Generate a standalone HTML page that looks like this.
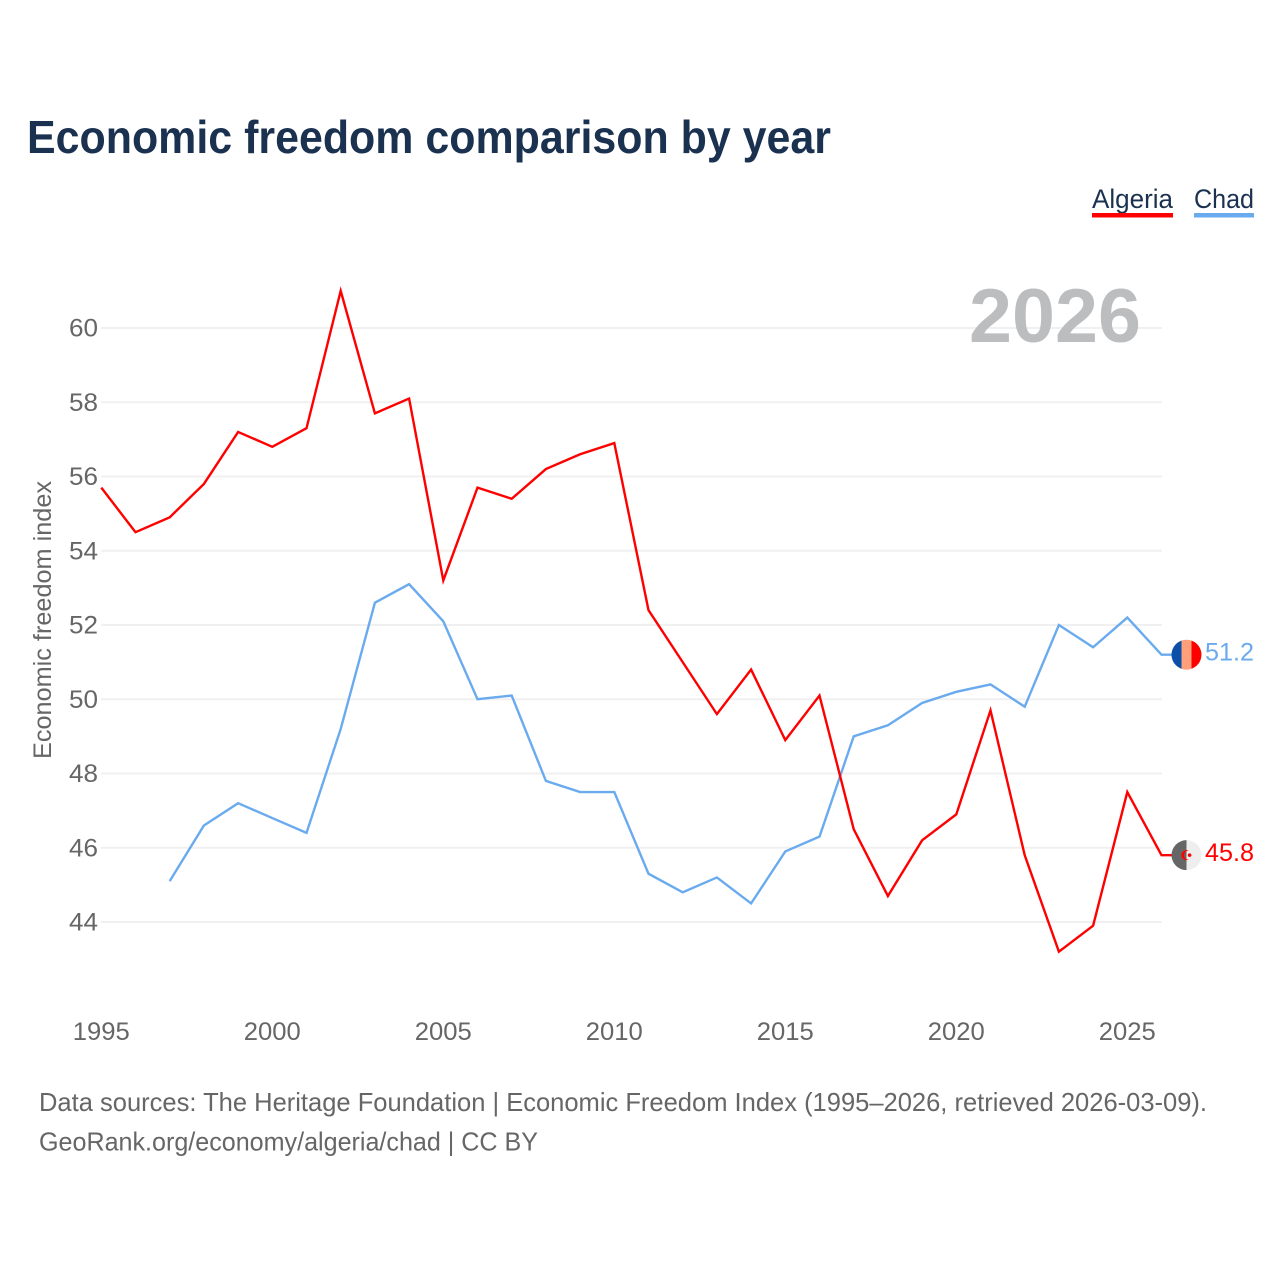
<!DOCTYPE html>
<html lang="en">
<head>
<meta charset="utf-8">
<title>Economic freedom comparison by year</title>
<style>
html,body{margin:0;padding:0;background:#fff}
svg{display:block}
text{font-family:"Liberation Sans",sans-serif}
</style>
</head>
<body>
<svg id="chart" xmlns="http://www.w3.org/2000/svg" width="1280" height="1280" viewBox="0 0 1280 1280">
  <rect width="1280" height="1280" fill="#ffffff"/>
  <text x="27" y="153" font-size="46" font-weight="700" fill="#1a3150" textLength="804" lengthAdjust="spacingAndGlyphs">Economic freedom comparison by year</text>
  <g id="grid"></g>
  <text x="1141" y="342" font-size="76" font-weight="700" fill="#bbbdbf" text-anchor="end" textLength="172" lengthAdjust="spacingAndGlyphs">2026</text>
  <g id="y-ticks"></g>
  <g id="x-ticks"></g>
  <text transform="translate(51,759) rotate(-90)" font-size="25" fill="#666666" textLength="278" lengthAdjust="spacingAndGlyphs">Economic freedom index</text>
  <g id="series"></g>

  <g>
    <text x="1092" y="208" font-size="27" fill="#1a3150" textLength="81" lengthAdjust="spacingAndGlyphs">Algeria</text>
    <rect x="1092" y="213" width="81" height="4.5" fill="#ff0000"/>
  </g>
  <g>
    <text x="1194" y="208" font-size="27" fill="#1a3150" textLength="60" lengthAdjust="spacingAndGlyphs">Chad</text>
    <rect x="1194" y="213" width="60" height="4.5" fill="#6aaaee"/>
  </g>

  <defs>
    <clipPath id="flag-clip"><circle cx="1186.5" cy="0" r="15"/></clipPath>
  </defs>
  <g id="marker-chad">
    <g clip-path="url(#flag-clip)">
      <rect x="1171" y="-16" width="11" height="32" fill="#0a50a8"/>
      <rect x="1181.5" y="-16" width="10" height="32" fill="#ffa07a"/>
      <rect x="1191.5" y="-16" width="11" height="32" fill="#ff0000"/>
    </g>
    <text id="end-label-chad" x="1205" y="6" font-size="25" fill="#6aaaee" textLength="49" lengthAdjust="spacingAndGlyphs">51.2</text>
  </g>
  <g id="marker-algeria">
    <g clip-path="url(#flag-clip)">
      <rect x="1171" y="-16" width="15.5" height="32" fill="#666666"/>
      <rect x="1186.5" y="-16" width="16" height="32" fill="#eeeeee"/>
      <path d="M1188.6 -4.5A5 5 0 1 0 1188.6 4.5A4 4 0 1 1 1188.6 -4.5Z" fill="#ff0000"/>
      <circle cx="1189.6" cy="0" r="1.8" fill="#ff0000"/>
    </g>
    <text id="end-label-algeria" x="1205" y="6" font-size="25" fill="#ff0000" textLength="49" lengthAdjust="spacingAndGlyphs">45.8</text>
  </g>

  <text x="39" y="1111" font-size="26" fill="#666666" textLength="1168" lengthAdjust="spacingAndGlyphs">Data sources: The Heritage Foundation | Economic Freedom Index (1995–2026, retrieved 2026-03-09).</text>
  <text x="39" y="1150.5" font-size="26" fill="#666666" textLength="499" lengthAdjust="spacingAndGlyphs">GeoRank.org/economy/algeria/chad | CC BY</text>
</svg>
<script>
const years = [1995,1996,1997,1998,1999,2000,2001,2002,2003,2004,2005,2006,2007,2008,2009,2010,2011,2012,2013,2014,2015,2016,2017,2018,2019,2020,2021,2022,2023,2024,2025,2026];
const algeria = [55.7,54.5,54.9,55.8,57.2,56.8,57.3,61.0,57.7,58.1,53.2,55.7,55.4,56.2,56.6,56.9,52.4,51.0,49.6,50.8,48.9,50.1,46.5,44.7,46.2,46.9,49.7,45.8,43.2,43.9,47.5,45.8];
const chad = [null,null,45.1,46.6,47.2,46.8,46.4,49.2,52.6,53.1,52.1,50.0,50.1,47.8,47.5,47.5,45.3,44.8,45.2,44.5,45.9,46.3,49.0,49.3,49.9,50.2,50.4,49.8,52.0,51.4,52.2,51.2];
const yTickValues = [44,46,48,50,52,54,56,58,60];
const xTickValues = [1995,2000,2005,2010,2015,2020,2025];

const NS = 'http://www.w3.org/2000/svg';
function xScale(year){ return 101.3 + (year - 1995) * 34.2; }
function yScale(value){ return 328 + (60 - value) * 37.125; }

const gridGroup = document.getElementById('grid');
const yTickGroup = document.getElementById('y-ticks');
yTickValues.forEach(function(v){
  const line = document.createElementNS(NS, 'line');
  
  
  line.setAttribute('x1', 101);
  line.setAttribute('x2', 1162);
  line.setAttribute('y1', yScale(v));
  line.setAttribute('y2', yScale(v));
  line.setAttribute('stroke', '#f0f0f0');
  line.setAttribute('stroke-width', 2);
  gridGroup.appendChild(line);
  const label = document.createElementNS(NS, 'text');
  
  
  label.setAttribute('x', 98);
  label.setAttribute('y', yScale(v) + 8.5);
  label.setAttribute('text-anchor', 'end');
  label.setAttribute('font-size', 25);
  label.setAttribute('fill', '#666666');
  label.setAttribute('textLength', 29);
  label.setAttribute('lengthAdjust', 'spacingAndGlyphs');
  label.textContent = v;
  yTickGroup.appendChild(label);
});

const xTickGroup = document.getElementById('x-ticks');
xTickValues.forEach(function(y){
  const label = document.createElementNS(NS, 'text');
  
  
  label.setAttribute('x', xScale(y));
  label.setAttribute('y', 1040);
  label.setAttribute('text-anchor', 'middle');
  label.setAttribute('font-size', 25);
  label.setAttribute('fill', '#666666');
  label.setAttribute('textLength', 57);
  label.setAttribute('lengthAdjust', 'spacingAndGlyphs');
  label.textContent = y;
  xTickGroup.appendChild(label);
});

function buildPath(values){
  let d = '';
  values.forEach(function(v, i){
    if (v === null) return;
    d += (d ? 'L' : 'M') + xScale(years[i]).toFixed(2) + ' ' + yScale(v).toFixed(2);
  });
  const last = values[values.length - 1];
  d += 'L1172 ' + yScale(last).toFixed(2);
  return d;
}
const seriesGroup = document.getElementById('series');
const chadLine = document.createElementNS(NS, 'path');


chadLine.setAttribute('d', buildPath(chad));
chadLine.setAttribute('fill', 'none');
chadLine.setAttribute('stroke', '#6aaaee');
chadLine.setAttribute('stroke-width', 2.4);
seriesGroup.appendChild(chadLine);
const algeriaLine = document.createElementNS(NS, 'path');


algeriaLine.setAttribute('d', buildPath(algeria));
algeriaLine.setAttribute('fill', 'none');
algeriaLine.setAttribute('stroke', '#ff0000');
algeriaLine.setAttribute('stroke-width', 2.4);
seriesGroup.appendChild(algeriaLine);

const chadLast = chad[chad.length - 1];
const algeriaLast = algeria[algeria.length - 1];
document.getElementById('marker-chad').setAttribute('transform', 'translate(0,' + yScale(chadLast).toFixed(2) + ')');
document.getElementById('marker-algeria').setAttribute('transform', 'translate(0,' + yScale(algeriaLast).toFixed(2) + ')');
document.getElementById('end-label-chad').textContent = chadLast.toFixed(1);
document.getElementById('end-label-algeria').textContent = algeriaLast.toFixed(1);
</script>
</body>
</html>
